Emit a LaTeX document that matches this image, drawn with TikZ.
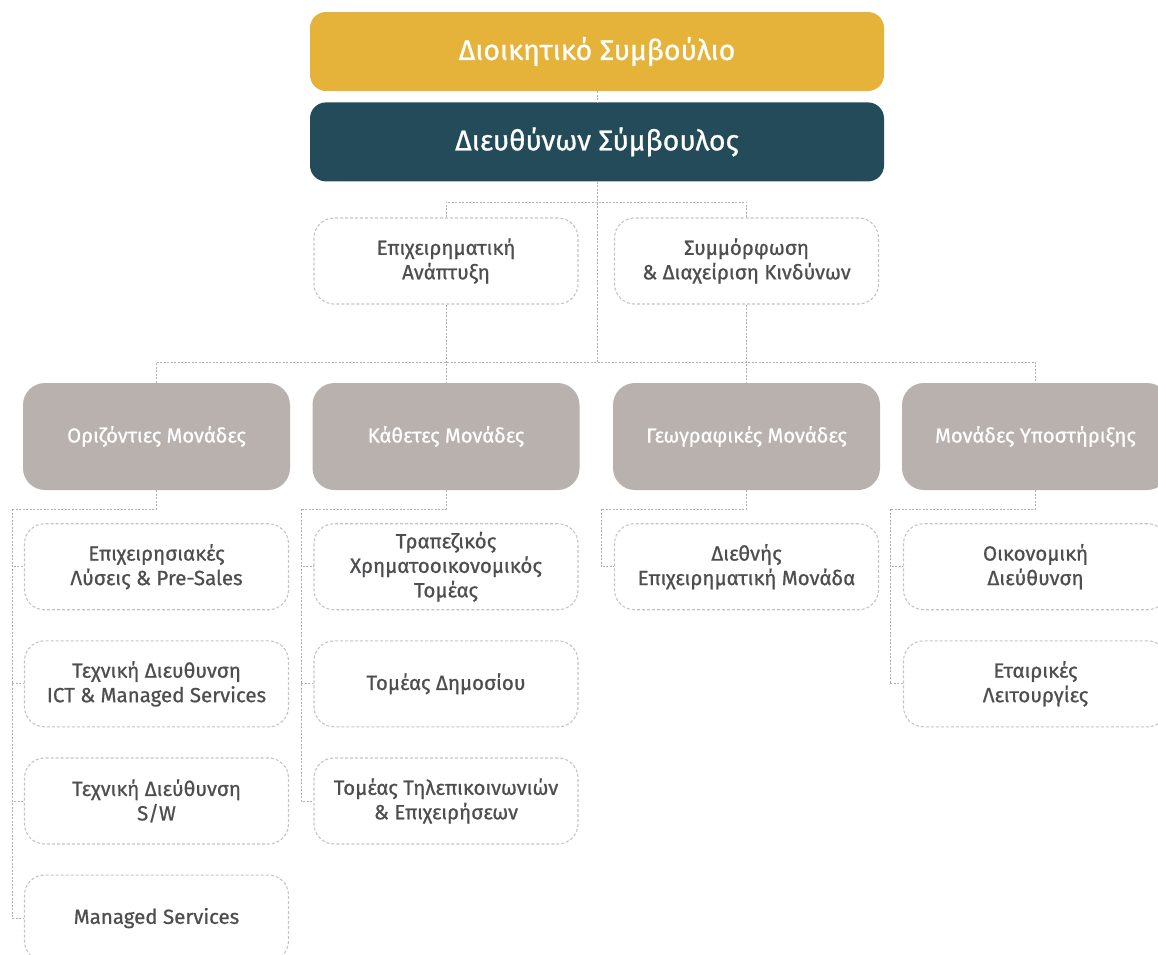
\documentclass[tikz,border=0pt]{standalone}
\usepackage{fontspec}
\setmainfont{Fira Sans}[FakeBold=0.8]
\usetikzlibrary{positioning}

\definecolor{boardyellow}{HTML}{E6B33A}
\definecolor{ceoteal}{HTML}{244B59}
\definecolor{unitgray}{HTML}{B8B1AD}
\definecolor{textgray}{HTML}{4E4E50}
\definecolor{linegray}{HTML}{B0B0B0}
\definecolor{dashgray}{HTML}{C4C4C4}

\begin{document}
\begin{tikzpicture}
        [
            x=1pt, y=-1pt,
            line/.style = {
                draw=linegray,
                line width=0.9pt,
                dash pattern=on 2pt off 1.5pt
            },
            head/.style = {
                rectangle,
                rounded corners=16pt,
                minimum width=574pt,
                minimum height=79pt,
                text=white,
                font=\fontsize{28.5}{32}\selectfont
            },
            unit/.style = {
                rectangle,
                fill=unitgray,
                rounded corners=22pt,
                minimum width=267pt,
                minimum height=107pt,
                text=white,
                font=\fontsize{20.3}{24}\selectfont
            },
            sub/.style = {
                rectangle,
                draw=dashgray,
                line width=1.1pt,
                dash pattern=on 3pt off 2pt,
                rounded corners=20pt,
                minimum width=264pt,
                minimum height=86pt,
                align=center,
                text=textgray,
                font=\fontsize{20.5}{24.5}\selectfont
            }
        ]

        \useasboundingbox (0,0) rectangle (1158,954);

        \node[head,fill=boardyellow] (board) at (597,51.5) {Διοικητικό Συμβούλιο};
        \node[head,fill=ceoteal,below=11pt of board] (ceo) {Διευθύνων Σύμβουλος};

        \node[sub] (bizdev) at (446,261) {Επιχειρηματική\\Ανάπτυξη};
        \node[sub] (compliance) at (746.5,261) {Συμμόρφωση\\\& Διαχείριση Κινδύνων};

        \node[unit] (horiz) at (156.5,436.5) {Οριζόντιες Μονάδες};
        \node[unit] (vert) at (446,436.5) {Κάθετες Μονάδες};
        \node[unit] (geo) at (746.5,436.5) {Γεωγραφικές Μονάδες};
        \node[unit] (support) at (1035.5,436.5) {Μονάδες Υποστήριξης};

        \node[sub,below=33pt of horiz] (solutions) {Επιχειρησιακές\\Λύσεις \& Pre-Sales};
        \node[sub,below=30pt of solutions] (ictdir) {Τεχνική Διευθυνση\\ICT \& Managed Services};
        \node[sub,below=30pt of ictdir] (swdir) {Τεχνική Διεύθυνση\\S/W};
        \node[sub,below=30pt of swdir] (managed) {Managed Services};

        \node[sub,below=33pt of vert] (banking) {Τραπεζικός\\Χρηματοοικονομικός\\Τομέας};
        \node[sub,below=30pt of banking] (public) {Τομέας Δημοσίου};
        \node[sub,below=30pt of public] (telco) {Τομέας Τηλεπικοινωνιών\\\& Επιχειρήσεων};

        \node[sub,below=33pt of geo] (intl) {Διεθνής\\Επιχειρηματική Μονάδα};

        \node[sub,below=33pt of support] (finance) {Οικονομική\\Διεύθυνση};
        \node[sub,below=30pt of finance] (corporate) {Εταιρικές\\Λειτουργίες};

        \coordinate (staffbus) at (597,202);
        \coordinate (mainbus) at (597,362);
        \coordinate (horizbus) at (12,509);
        \coordinate (vertbus) at (301,509);
        \coordinate (geobus) at (601,509);
        \coordinate (supportbus) at (890,509);

        \path[line] (board) -- (ceo);
        \path[line] (ceo) -- (mainbus);
        \path[line] (bizdev) |- (staffbus) -| (compliance);
        \path[line] (horiz) |- (mainbus) -| (support);
        \path[line] (bizdev) -- (vert);
        \path[line] (compliance) -- (geo);

        \path[line] (horiz) |- (horizbus);
        \foreach \child in {solutions,ictdir,swdir,managed}
            \path[line] (horizbus) |- (\child);
        \path[line] (vert) |- (vertbus);
        \foreach \child in {banking,public,telco}
            \path[line] (vertbus) |- (\child);
        \path[line] (geo) |- (geobus);
        \path[line] (geobus) |- (intl);
        \path[line] (support) |- (supportbus);
        \foreach \child in {finance,corporate}
            \path[line] (supportbus) |- (\child);
    \end{tikzpicture}
\end{document}
